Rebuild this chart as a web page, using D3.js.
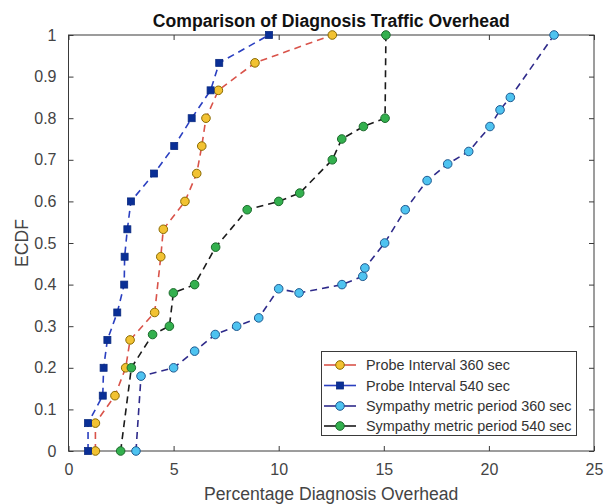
<!DOCTYPE html>
<html><head><meta charset="utf-8">
<script src="https://cdn.jsdelivr.net/npm/d3@7"></script>
<style>
html,body{margin:0;padding:0;background:#fff;}
svg{display:block;font-family:"Liberation Sans",Arial,sans-serif;}
</style></head>
<body><svg id="chart" width="612" height="504"></svg>
<script>
// ---- data ----
const seriesNames = ["Probe Interval 360 sec","Probe Interval 540 sec","Sympathy metric period 360 sec","Sympathy metric period 540 sec"];
const probe360X = [1.28,1.28,2.21,2.72,2.93,4.10,4.39,4.51,5.54,6.10,6.34,6.54,7.13,8.87,12.55];
const probe360Y = [0,0.067,0.133,0.2,0.267,0.333,0.467,0.533,0.6,0.667,0.733,0.8,0.867,0.933,1];
const probe540X = [0.93,0.93,1.63,1.67,1.85,2.32,2.65,2.67,2.80,2.97,4.07,5.03,5.86,6.76,7.17,9.54];
const probe540Y = [0,0.067,0.133,0.2,0.267,0.333,0.4,0.467,0.533,0.6,0.667,0.733,0.8,0.867,0.933,1];
const sym360X = [3.21,3.45,5.0,6.0,6.98,8.0,9.05,10.0,10.97,13.01,14.0,14.1,15.04,16.02,17.06,18.04,19.04,20.05,20.53,21.02,23.1];
const sym360Y = [0,0.18,0.2,0.24,0.28,0.30,0.32,0.39,0.38,0.40,0.42,0.44,0.50,0.58,0.65,0.69,0.72,0.78,0.82,0.85,1.0];
const sym540X = [2.48,2.99,4.0,4.8,4.99,6.0,7.0,8.5,10.0,11.0,12.55,13.0,14.03,15.06,15.1];
const sym540Y = [0,0.2,0.28,0.30,0.38,0.40,0.49,0.58,0.60,0.62,0.70,0.75,0.78,0.80,1.0];
const xTicks = [0,5,10,15,20,25];
const yTicks = [0,0.1,0.2,0.3,0.4,0.5,0.6,0.7,0.8,0.9,1];
const titleText = "Comparison of Diagnosis Traffic Overhead";
const xLabel = "Percentage Diagnosis Overhead";
const yLabel = "ECDF";

// ---- styles ----
const styles = [
  {line:"#d9534a", face:"#f2c232", edge:"#8a6a00", shape:"circle"},
  {line:"#2a3fc0", face:"#0a2f96", edge:"#0a2a80", shape:"square"},
  {line:"#2e2a8a", face:"#4ec3f0", edge:"#1f5a90", shape:"circle"},
  {line:"#1a1a1a", face:"#33b04e", edge:"#1c6a2c", shape:"circle"}
];
const data = [
  probe360X.map((x,i)=>({x, y:probe360Y[i]})),
  probe540X.map((x,i)=>({x, y:probe540Y[i]})),
  sym360X.map((x,i)=>({x, y:sym360Y[i]})),
  sym540X.map((x,i)=>({x, y:sym540Y[i]}))
];

const svg = d3.select("#chart");
const L=68.5, R=594, T=35, B=451;
const x = d3.scaleLinear().domain([0,25]).range([L,R]);
const y = d3.scaleLinear().domain([0,1]).range([B,T]);
const axisColor = "#3a3a3a";
const textColor = "#444";

// frame
svg.append("rect").attr("x",L).attr("y",T).attr("width",R-L).attr("height",B-T)
  .attr("fill","#fff").attr("stroke",axisColor).attr("stroke-width",1);

// axes (ticks inward)
const tl = 5;
const gx = svg.append("g").attr("transform",`translate(0,${B})`)
  .call(d3.axisBottom(x).tickValues(xTicks).tickSizeInner(-tl).tickSizeOuter(0).tickPadding(13).tickFormat(d3.format("d")));
const gxt = svg.append("g").attr("transform",`translate(0,${T})`)
  .call(d3.axisTop(x).tickValues(xTicks).tickSizeInner(-tl).tickSizeOuter(0).tickFormat(""));
const gy = svg.append("g").attr("transform",`translate(${L},0)`)
  .call(d3.axisLeft(y).tickValues(yTicks).tickSizeInner(-tl).tickSizeOuter(0).tickPadding(12).tickFormat(d=>d===0?"0":d===1?"1":d3.format(".1f")(d)));
const gyr = svg.append("g").attr("transform",`translate(${R},0)`)
  .call(d3.axisRight(y).tickValues(yTicks).tickSizeInner(-tl).tickSizeOuter(0).tickFormat(""));
[gx,gxt,gy,gyr].forEach(g=>{
  g.select(".domain").remove();
  g.selectAll("line").attr("stroke",axisColor);
  g.selectAll("text").attr("fill",textColor).attr("font-size",16).attr("font-family","Liberation Sans, Arial, sans-serif");
});

// series
const line = d3.line().x(d=>x(d.x)).y(d=>y(d.y));
data.forEach((pts,i)=>{
  const s = styles[i];
  const g = svg.append("g");
  g.append("path").datum(pts).attr("d",line).attr("fill","none")
    .attr("stroke",s.line).attr("stroke-width",1.6).attr("stroke-dasharray","7,5");
  if(s.shape==="square"){
    g.selectAll("rect").data(pts).join("rect")
      .attr("x",d=>x(d.x)-3.5).attr("y",d=>y(d.y)-3.5).attr("width",7).attr("height",7)
      .attr("fill",s.face).attr("stroke",s.edge).attr("stroke-width",0.8);
  } else {
    g.selectAll("circle").data(pts).join("circle")
      .attr("cx",d=>x(d.x)).attr("cy",d=>y(d.y)).attr("r",4.3)
      .attr("fill",s.face).attr("stroke",s.edge).attr("stroke-width",1);
  }
});

// title and labels
svg.append("text").attr("x",(L+R)/2).attr("y",27).attr("text-anchor","middle")
  .attr("font-weight","bold").attr("font-size",17.6).attr("fill","#111").text(titleText);
svg.append("text").attr("x",(L+R)/2).attr("y",500).attr("text-anchor","middle")
  .attr("font-size",17.6).attr("fill",textColor).text(xLabel);
svg.append("text").attr("transform",`translate(28,${(T+B)/2}) rotate(-90)`).attr("text-anchor","middle")
  .attr("font-size",17.6).attr("fill",textColor).text(yLabel);

// legend
const lg = svg.append("g");
lg.append("rect").attr("x",321.5).attr("y",351.5).attr("width",255).attr("height",84)
  .attr("fill","#fff").attr("stroke",axisColor).attr("stroke-width",1);
const rowY = [365,385.5,406,426];
seriesNames.forEach((name,i)=>{
  const s = styles[i], yy = rowY[i];
  lg.append("line").attr("x1",324).attr("x2",356).attr("y1",yy).attr("y2",yy)
    .attr("stroke",s.line).attr("stroke-width",1.6);
  if(s.shape==="square"){
    lg.append("rect").attr("x",340-3.5).attr("y",yy-3.5).attr("width",7).attr("height",7)
      .attr("fill",s.face).attr("stroke",s.edge).attr("stroke-width",0.8);
  } else {
    lg.append("circle").attr("cx",340).attr("cy",yy).attr("r",4.3)
      .attr("fill",s.face).attr("stroke",s.edge).attr("stroke-width",1);
  }
  lg.append("text").attr("x",366).attr("y",yy).attr("dy","0.36em")
    .attr("font-size",14.4).attr("fill","#333").text(name);
});
</script></body></html>
